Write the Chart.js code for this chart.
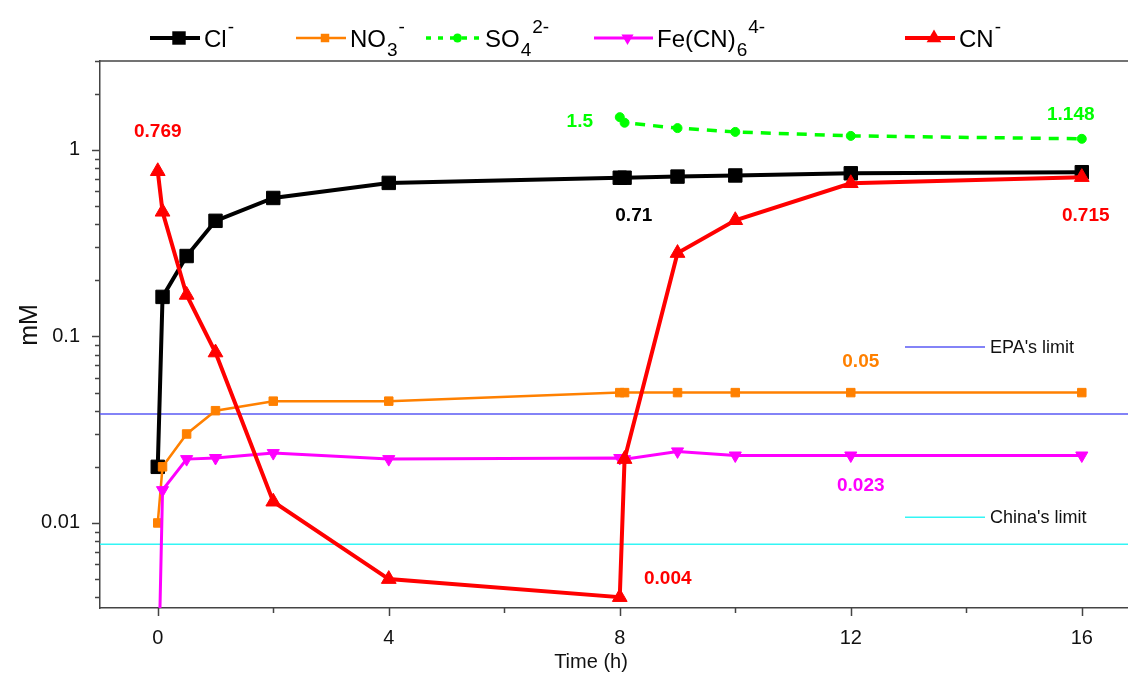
<!DOCTYPE html>
<html>
<head>
<meta charset="utf-8">
<script src="https://cdn.jsdelivr.net/npm/chart.js@4"></script>
<style>
  html, body { margin: 0; padding: 0; background: #fff; overflow: hidden; }
</style>
</head>
<body>
<canvas id="c" width="1128" height="677"></canvas>
<script>
// sampling times (h)
const timeMain = [0, 0.083, 0.5, 1, 2, 4, 8, 8.083, 9, 10, 12, 16];
const timeSO4 = [8, 8.083, 9, 10, 12, 16];

// concentrations (mM)
const valCl = [0.02, 0.163, 0.27, 0.417, 0.553, 0.666, 0.71, 0.71, 0.72, 0.73, 0.75, 0.76];
const valNO3 = [0.01, 0.02, 0.03, 0.04, 0.045, 0.045, 0.05, 0.05, 0.05, 0.05, 0.05, 0.05];
const valSO4 = [1.5, 1.4, 1.31, 1.25, 1.19, 1.148];
const valFe = [0.001, 0.015, 0.022, 0.0223, 0.0237, 0.022, 0.0223, 0.022, 0.0242, 0.023, 0.023, 0.023];
const valCN = [0.769, 0.466, 0.167, 0.082, 0.013, 0.005, 0.004, 0.022, 0.28, 0.42, 0.663, 0.715];

const epaLimit = 0.0384;
const chinaLimit = 0.0077;

const xTicks = [0, 2, 4, 6, 8, 10, 12, 14, 16];
const yTicks = [0.01, 0.1, 1];

// value labels: series, point index, text, offset
const valueLabels = [
  ["CN", 0, "0.769", 0, -39],
  ["SO4", 0, "1.5", -40, 5],
  ["SO4", 5, "1.148", -11, -24],
  ["Cl", 6, "0.71", 14, 38],
  ["CN", 11, "0.715", 4, 39],
  ["NO3", 10, "0.05", 10, -31],
  ["Fe", 10, "0.023", 10, 30],
  ["CN", 6, "0.004", 48, -18]
];

const pts = (xs, ys) => xs.map((x, i) => ({ x: x, y: ys[i] }));
const X_MIN = -1, X_MAX = 16.8;

const series = {
  Cl:  { color: "#000000", lw: 4, dash: [], style: "rect", r: 9.5, rot: 0 },
  NO3: { color: "#FF8000", lw: 2.5, dash: [], style: "rect", r: 6, rot: 0 },
  SO4: { color: "#00FF00", lw: 3.5, dash: [10, 8], style: "circle", r: 4.5, rot: 0 },
  Fe:  { color: "#FF00FF", lw: 3, dash: [], style: "triangle", r: 7, rot: 180 },
  CN:  { color: "#FF0000", lw: 4, dash: [], style: "triangle", r: 8.5, rot: 0 }
};

function lineSet(key, data, order) {
  const s = series[key];
  return {
    label: key, data: data, order: order,
    borderColor: s.color, backgroundColor: s.color, borderWidth: s.lw, borderDash: s.dash,
    pointStyle: s.style, pointRadius: s.r, pointRotation: s.rot,
    pointBackgroundColor: s.color, pointBorderColor: s.color, pointBorderWidth: 1,
    tension: 0
  };
}

function limitSet(label, v, color) {
  return {
    label: label, data: [{ x: X_MIN, y: v }, { x: X_MAX, y: v }], order: 10,
    borderColor: color, borderWidth: 1.5, pointRadius: 0, tension: 0
  };
}

function drawMarker(ctx, s, x, y) {
  ctx.fillStyle = s.color;
  ctx.beginPath();
  if (s.style === "rect") {
    const h = s.r * Math.SQRT1_2;
    ctx.rect(x - h, y - h, 2 * h, 2 * h);
  } else if (s.style === "circle") {
    ctx.arc(x, y, s.r, 0, Math.PI * 2);
  } else {
    const dir = s.rot === 180 ? 1 : -1;
    const w = s.r * Math.sin(Math.PI / 3);
    ctx.moveTo(x, y + dir * s.r);
    ctx.lineTo(x - w, y - dir * s.r / 2);
    ctx.lineTo(x + w, y - dir * s.r / 2);
    ctx.closePath();
  }
  ctx.fill();
}

const legendItems = [
  { key: "Cl", x: 150, w: 50, parts: [["Cl", ""], ["-", "sup"]] },
  { key: "NO3", x: 296, w: 50, parts: [["NO", ""], ["3", "sub"], ["-", "sup"]] },
  { key: "SO4", x: 426, w: 55, parts: [["SO", ""], ["4", "sub"], ["2-", "sup"]] },
  { key: "Fe", x: 594, w: 59, parts: [["Fe(CN)", ""], ["6", "sub"], ["4-", "sup"]] },
  { key: "CN", x: 905, w: 50, parts: [["CN", ""], ["-", "sup"]] }
];

const extras = {
  id: "extras",
  afterDatasetsDraw(chart) {
    const ctx = chart.ctx;
    ctx.save();
    ctx.font = "bold 19px 'Liberation Sans', Arial, sans-serif";
    ctx.textAlign = "center";
    ctx.textBaseline = "middle";
    valueLabels.forEach(([key, i, text, dx, dy]) => {
      const idx = chart.data.datasets.findIndex(d => d.label === key);
      const p = chart.getDatasetMeta(idx).data[i];
      ctx.fillStyle = series[key].color;
      ctx.fillText(text, p.x + dx, p.y + dy);
    });
    ctx.restore();
  },
  afterDraw(chart) {
    const ctx = chart.ctx, a = chart.chartArea;
    const xs = chart.scales.x, ys = chart.scales.y;
    ctx.save();
    ctx.strokeStyle = "#444";
    ctx.lineWidth = 1.5;
    // top frame
    ctx.beginPath();
    ctx.moveTo(a.left, a.top);
    ctx.lineTo(a.right, a.top);
    ctx.stroke();
    // y tick marks (log, major + minor)
    ctx.beginPath();
    for (let e = -3; e <= 0; e++) {
      for (let m = 1; m <= 9; m++) {
        const v = m * Math.pow(10, e);
        if (v < ys.min || v > ys.max) continue;
        const py = Math.round(ys.getPixelForValue(v)) + 0.5;
        const len = m === 1 ? 8 : 5;
        ctx.moveTo(a.left - len, py);
        ctx.lineTo(a.left, py);
      }
    }
    // x tick marks
    xTicks.forEach(v => {
      const px = Math.round(xs.getPixelForValue(v)) + 0.5;
      const len = v % 4 === 0 ? 8 : 5;
      ctx.moveTo(px, a.bottom);
      ctx.lineTo(px, a.bottom + len);
    });
    ctx.stroke();

    // axis titles
    ctx.fillStyle = "#111";
    ctx.textAlign = "center";
    ctx.textBaseline = "middle";
    ctx.font = "20px 'Liberation Sans', Arial, sans-serif";
    ctx.fillText("Time (h)", 591, 662);
    ctx.save();
    ctx.translate(30, 325);
    ctx.rotate(-Math.PI / 2);
    ctx.font = "25px 'Liberation Sans', Arial, sans-serif";
    ctx.fillText("mM", 0, 0);
    ctx.restore();

    // limit line keys
    const limits = [["EPA's limit", "#5A5AF5", ys.getPixelForValue(epaLimit) - 67],
                    ["China's limit", "#33F5F5", ys.getPixelForValue(chinaLimit) - 27]];
    ctx.font = "18px 'Liberation Sans', Arial, sans-serif";
    ctx.textAlign = "left";
    limits.forEach(([t, c, y]) => {
      ctx.strokeStyle = c;
      ctx.lineWidth = 1.5;
      ctx.beginPath();
      ctx.moveTo(905, y);
      ctx.lineTo(985, y);
      ctx.stroke();
      ctx.fillStyle = "#111";
      ctx.fillText(t, 990, y + 1);
    });

    // top legend
    ctx.textBaseline = "alphabetic";
    legendItems.forEach(it => {
      const s = series[it.key];
      const y = 38;
      ctx.strokeStyle = s.color;
      ctx.lineWidth = s.lw;
      ctx.setLineDash(s.dash.length ? [5, 7] : []);
      ctx.beginPath();
      ctx.moveTo(it.x, y);
      ctx.lineTo(it.x + it.w, y);
      ctx.stroke();
      ctx.setLineDash([]);
      drawMarker(ctx, s, it.x + it.w / 2 + 4, y);
      let tx = it.x + it.w + 4;
      ctx.fillStyle = "#000";
      it.parts.forEach(([t, kind]) => {
        let by = 47;
        if (kind === "") ctx.font = "24px 'Liberation Sans', Arial, sans-serif";
        else ctx.font = "19px 'Liberation Sans', Arial, sans-serif";
        if (kind === "sub") by = 56;
        if (kind === "sup") by = 33;
        ctx.fillText(t, tx, by);
        tx += ctx.measureText(t).width + (kind === "sup" ? 0 : 1);
      });
    });
    ctx.restore();
  }
};

new Chart(document.getElementById("c"), {
  type: "line",
  data: {
    datasets: [
      limitSet("EPA", epaLimit, "#5A5AF5"),
      limitSet("China", chinaLimit, "#33F5F5"),
      lineSet("Cl", pts(timeMain, valCl), 5),
      lineSet("NO3", pts(timeMain, valNO3), 4),
      lineSet("SO4", pts(timeSO4, valSO4), 3),
      lineSet("Fe", pts(timeMain, valFe), 2),
      lineSet("CN", pts(timeMain, valCN), 1)
    ]
  },
  options: {
    responsive: false,
    animation: false,
    devicePixelRatio: 1,
    layout: { autoPadding: false, padding: { top: 61, right: 0, bottom: 0, left: 0 } },
    plugins: { legend: { display: false }, tooltip: { enabled: false } },
    scales: {
      x: {
        type: "linear", min: X_MIN, max: X_MAX,
        afterBuildTicks: s => { s.ticks = xTicks.map(v => ({ value: v })); },
        afterFit: s => { s.height = 69; s.paddingLeft = 0; s.paddingRight = 0; },
        grid: { display: false },
        border: { display: true, color: "#444", width: 1.5 },
        ticks: {
          autoSkip: false, maxRotation: 0, padding: 10, color: "#111",
          font: { family: "'Liberation Sans', Arial, sans-serif", size: 20 },
          callback: v => (v % 4 === 0 ? String(v) : "")
        }
      },
      y: {
        type: "logarithmic", min: 0.0035, max: 3,
        afterBuildTicks: s => { s.ticks = yTicks.map(v => ({ value: v })); },
        afterFit: s => { s.width = 100; s.paddingTop = 0; s.paddingBottom = 0; },
        grid: { display: false },
        border: { display: true, color: "#444", width: 1.5 },
        ticks: {
          padding: 12, color: "#111",
          font: { family: "'Liberation Sans', Arial, sans-serif", size: 20 },
          callback: v => String(v)
        }
      }
    }
  },
  plugins: [extras]
});
</script>
</body>
</html>
